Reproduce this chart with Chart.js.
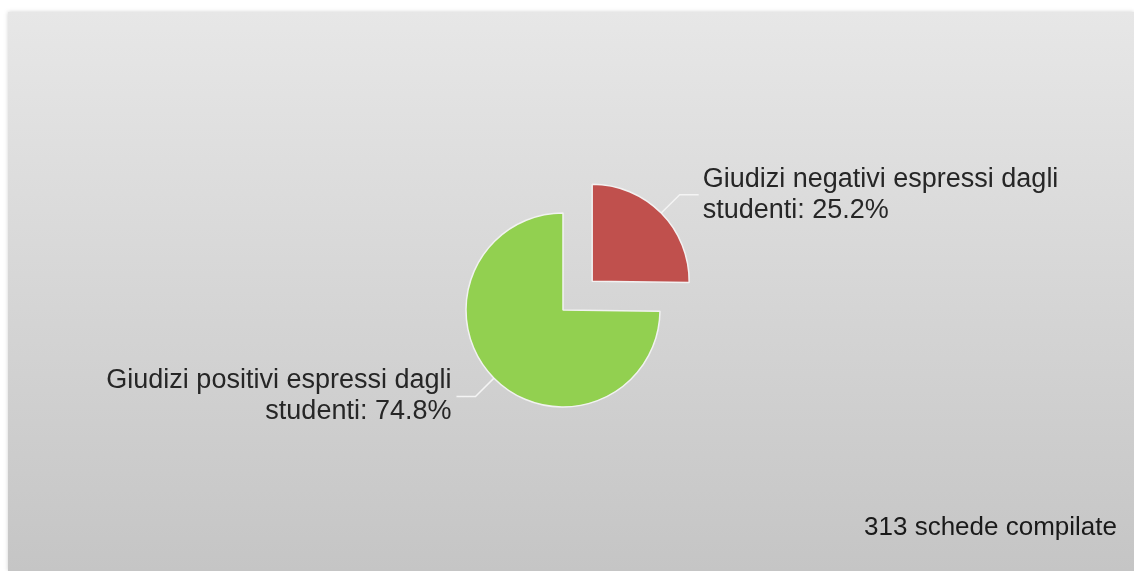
<!DOCTYPE html>
<html>
<head>
<meta charset="utf-8">
<script src="https://cdn.jsdelivr.net/npm/chart.js@4.4.0/dist/chart.umd.min.js"></script>
<style>
  html, body { margin: 0; padding: 0; background: #ffffff; }
  .chart-container { position: relative; width: 1134px; height: 571px; }
</style>
</head>
<body>
<div class="chart-container">
  <canvas id="chart"></canvas>
</div>
<script>
const labelLines = [
  ['Giudizi negativi espressi dagli', 'studenti'],
  ['Giudizi positivi espressi dagli', 'studenti']
];
const values = [25.2, 74.8];
const sliceColors = ['#c0504d', '#92d050'];
const sliceOffsets = [164, 0];
const footerText = '313 schede compilate';

const FONT = '"Liberation Sans", Arial, sans-serif';

const backgroundPlugin = {
  id: 'frameBackground',
  beforeDraw(chart) {
    const ctx = chart.ctx;
    const grad = ctx.createLinearGradient(0, 12, 0, chart.height);
    grad.addColorStop(0, '#e7e7e7');
    grad.addColorStop(1, '#c5c5c5');
    ctx.save();
    ctx.shadowColor = 'rgba(0,0,0,0.18)';
    ctx.shadowBlur = 4;
    ctx.fillStyle = grad;
    ctx.fillRect(8, 12, chart.width - 8, chart.height - 12);
    ctx.restore();
  }
};

const labelPlugin = {
  id: 'outsideLabels',
  afterDatasetsDraw(chart) {
    const ctx = chart.ctx;
    const meta = chart.getDatasetMeta(0);
    meta.data.forEach((arc, i) => {
      const p = arc.getProps(['x', 'y', 'startAngle', 'endAngle', 'outerRadius'], true);
      const mid = (p.startAngle + p.endAngle) / 2;
      // chart.js draws the offset at a quarter of its value
      const off = (arc.options.offset || 0) / 4;
      const cx = p.x + Math.cos(mid) * off;
      const cy = p.y + Math.sin(mid) * off;
      const ex = cx + Math.cos(mid) * p.outerRadius;
      const ey = cy + Math.sin(mid) * p.outerRadius;
      const bx = ex + Math.cos(mid) * 26;
      const by = ey + Math.sin(mid) * 26;
      const right = Math.cos(mid) >= 0;
      const hx = bx + (right ? 19 : -19);

      ctx.save();
      ctx.strokeStyle = '#f4f4f4';
      ctx.lineWidth = 1.5;
      ctx.beginPath();
      ctx.moveTo(ex, ey);
      ctx.lineTo(bx, by);
      ctx.lineTo(hx, by);
      ctx.stroke();

      const lines = [labelLines[i][0], labelLines[i][1] + ': ' + values[i].toFixed(1) + '%'];
      ctx.fillStyle = '#262626';
      ctx.font = '27px ' + FONT;
      ctx.textAlign = right ? 'left' : 'right';
      ctx.textBaseline = 'middle';
      const tx = hx + (right ? 4 : -5);
      ctx.fillText(lines[0], tx, by - 15.5);
      ctx.fillText(lines[1], tx, by + 15.5);
      ctx.restore();
    });

    ctx.save();
    ctx.fillStyle = '#1a1a1a';
    ctx.font = '26px ' + FONT;
    ctx.textAlign = 'right';
    ctx.textBaseline = 'alphabetic';
    ctx.fillText(footerText, 1117, 535);
    ctx.restore();
  }
};

new Chart(document.getElementById('chart'), {
  type: 'pie',
  data: {
    labels: labelLines.map(l => l.join(' ')),
    datasets: [{
      data: values,
      backgroundColor: sliceColors,
      borderColor: '#f2f2f2',
      borderWidth: 1.5,
      offset: sliceOffsets
    }]
  },
  options: {
    responsive: true,
    maintainAspectRatio: false,
    animation: false,
    radius: 97,
    layout: { padding: { left: 0, right: 8, top: 49, bottom: 0 } },
    plugins: {
      legend: { display: false },
      tooltip: { enabled: false }
    }
  },
  plugins: [backgroundPlugin, labelPlugin]
});
</script>
</body>
</html>
